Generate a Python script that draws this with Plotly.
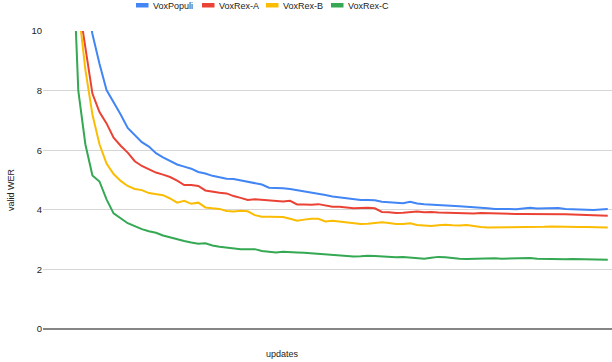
import plotly.graph_objects as go

updates = list(range(81))

vox_populi = [40, 30, 22, 17, 14.5, 12.8, 11.2, 9.9, 8.9, 8.02,
              7.62, 7.2, 6.75, 6.51, 6.27, 6.12, 5.9, 5.76, 5.65, 5.52,
              5.45, 5.38, 5.27, 5.22, 5.14, 5.08, 5.04, 5.03, 4.98, 4.94,
              4.90, 4.85, 4.74, 4.74, 4.72, 4.70, 4.66, 4.64, 4.58, 4.54,
              4.50, 4.45, 4.42, 4.37, 4.34, 4.33, 4.33, 4.32, 4.27, 4.25,
              4.24, 4.22, 4.27, 4.21, 4.19, 4.18, 4.16, 4.15, 4.13, 4.12,
              4.10, 4.09, 4.07, 4.05, 4.03, 4.04, 4.03, 4.02, 4.05, 4.07,
              4.04, 4.05, 4.05, 4.06, 4.03, 4.03, 4.01, 4.00, 3.99, 4.01, 4.03]

voxrex_a = [38, 28, 20, 15.5, 12.8, 11.0, 9.5, 7.9, 7.28, 6.9,
            6.42, 6.15, 5.92, 5.63, 5.47, 5.37, 5.25, 5.18, 5.10, 4.98,
            4.83, 4.83, 4.80, 4.65, 4.60, 4.57, 4.55, 4.46, 4.40, 4.33,
            4.35, 4.33, 4.31, 4.30, 4.28, 4.30, 4.18, 4.18, 4.17, 4.19,
            4.15, 4.10, 4.10, 4.07, 4.05, 4.06, 4.07, 4.05, 3.93, 3.92,
            3.89, 3.90, 3.93, 3.94, 3.92, 3.93, 3.91, 3.90, 3.90, 3.88,
            3.88, 3.88, 3.89, 3.88, 3.87, 3.88, 3.87, 3.86, 3.86, 3.86,
            3.85, 3.87, 3.85, 3.85, 3.85, 3.84, 3.83, 3.84, 3.82, 3.81, 3.80]

voxrex_b = [35, 26, 19, 15, 12.6, 10.8, 8.7, 7.2, 6.2, 5.55,
            5.2, 4.97, 4.80, 4.70, 4.66, 4.56, 4.52, 4.49, 4.38, 4.24,
            4.30, 4.20, 4.24, 4.08, 4.05, 4.03, 3.96, 3.94, 3.97, 3.95,
            3.82, 3.77, 3.77, 3.77, 3.76, 3.70, 3.63, 3.67, 3.70, 3.70,
            3.61, 3.63, 3.60, 3.58, 3.55, 3.52, 3.53, 3.56, 3.58, 3.56,
            3.52, 3.52, 3.55, 3.49, 3.48, 3.46, 3.48, 3.50, 3.48, 3.47,
            3.49, 3.45, 3.42, 3.41, 3.41, 3.43, 3.42, 3.41, 3.43, 3.43,
            3.42, 3.43, 3.44, 3.43, 3.43, 3.41, 3.42, 3.42, 3.41, 3.41, 3.41]

voxrex_c = [40, 32, 26, 20, 13.9, 8.0, 6.2, 5.15, 4.95, 4.35,
            3.88, 3.70, 3.55, 3.45, 3.35, 3.28, 3.23, 3.14, 3.07, 3.00,
            2.95, 2.90, 2.86, 2.88, 2.80, 2.76, 2.73, 2.72, 2.68, 2.68,
            2.68, 2.62, 2.60, 2.57, 2.59, 2.57, 2.57, 2.56, 2.54, 2.52,
            2.51, 2.49, 2.47, 2.45, 2.43, 2.44, 2.46, 2.45, 2.43, 2.42,
            2.41, 2.42, 2.40, 2.38, 2.36, 2.39, 2.42, 2.41, 2.38, 2.36,
            2.35, 2.36, 2.37, 2.37, 2.37, 2.36, 2.37, 2.38, 2.39, 2.38,
            2.36, 2.35, 2.35, 2.34, 2.34, 2.35, 2.34, 2.33, 2.33, 2.32, 2.32]

series_names = ["VoxPopuli", "VoxRex-A", "VoxRex-B", "VoxRex-C"]
series_values = [vox_populi, voxrex_a, voxrex_b, voxrex_c]
series_colors = ["#4285F4", "#EA4335", "#FBBC04", "#34A853"]
y_ticks = [0, 2, 4, 6, 8, 10]

W, H = 612, 362
ML, MR, MT, MB = 43, 0, 31, 33
PW, PH = W - ML - MR, H - MT - MB

def px_x(p):  # window pixel -> paper
    return (p - ML) / PW

def px_y(p):
    return (H - MB - p) / PH

fig = go.Figure()
for name, vals, col in zip(series_names, series_values, series_colors):
    fig.add_trace(go.Scatter(x=updates, y=vals, mode="lines", name=name,
                             line=dict(color=col, width=2), showlegend=False))

font = "Liberation Sans, Arial, sans-serif"
fig.update_layout(
    width=W, height=H,
    margin=dict(l=ML, r=MR, t=MT, b=MB, autoexpand=False),
    paper_bgcolor="white", plot_bgcolor="white",
    font=dict(family=font, size=9, color="#222222"),
    xaxis=dict(range=[0, 80.6], showgrid=False, showticklabels=False, ticks="",
               zeroline=False, showline=False),
    yaxis=dict(range=[0, 10], tickvals=y_ticks, showgrid=True, gridcolor="#d6d6d6",
               gridwidth=1, zeroline=True, zerolinecolor="#858585", zerolinewidth=1.6,
               ticks="", showline=False, tickfont=dict(size=9.5, color="#222222")),
)

# legend (drawn manually to match compact swatches)
legend_swatch_left = [136, 202, 266, 331]
for name, col, x0 in zip(series_names, series_colors, legend_swatch_left):
    fig.add_shape(type="rect", xref="paper", yref="paper",
                  x0=px_x(x0), x1=px_x(x0 + 12.5), y0=px_y(7.5), y1=px_y(3),
                  fillcolor=col, line=dict(width=0))
    fig.add_annotation(text=name, xref="paper", yref="paper",
                       x=px_x(x0 + 14.5), y=px_y(5.5), xanchor="left", yanchor="middle",
                       showarrow=False, font=dict(size=9, color="#222222"))

fig.add_annotation(text="valid WER", xref="paper", yref="paper",
                   x=px_x(4), y=px_y(190), xanchor="left", yanchor="middle",
                   textangle=-90, showarrow=False, font=dict(size=9, color="#222222"))
fig.add_annotation(text="updates", xref="paper", yref="paper",
                   x=px_x(282), y=px_y(354), xanchor="center", yanchor="middle",
                   showarrow=False, font=dict(size=9, color="#222222"))

fig.write_html("out.html", config={"displayModeBar": False},
               post_script="document.body.style.margin='0px';")
